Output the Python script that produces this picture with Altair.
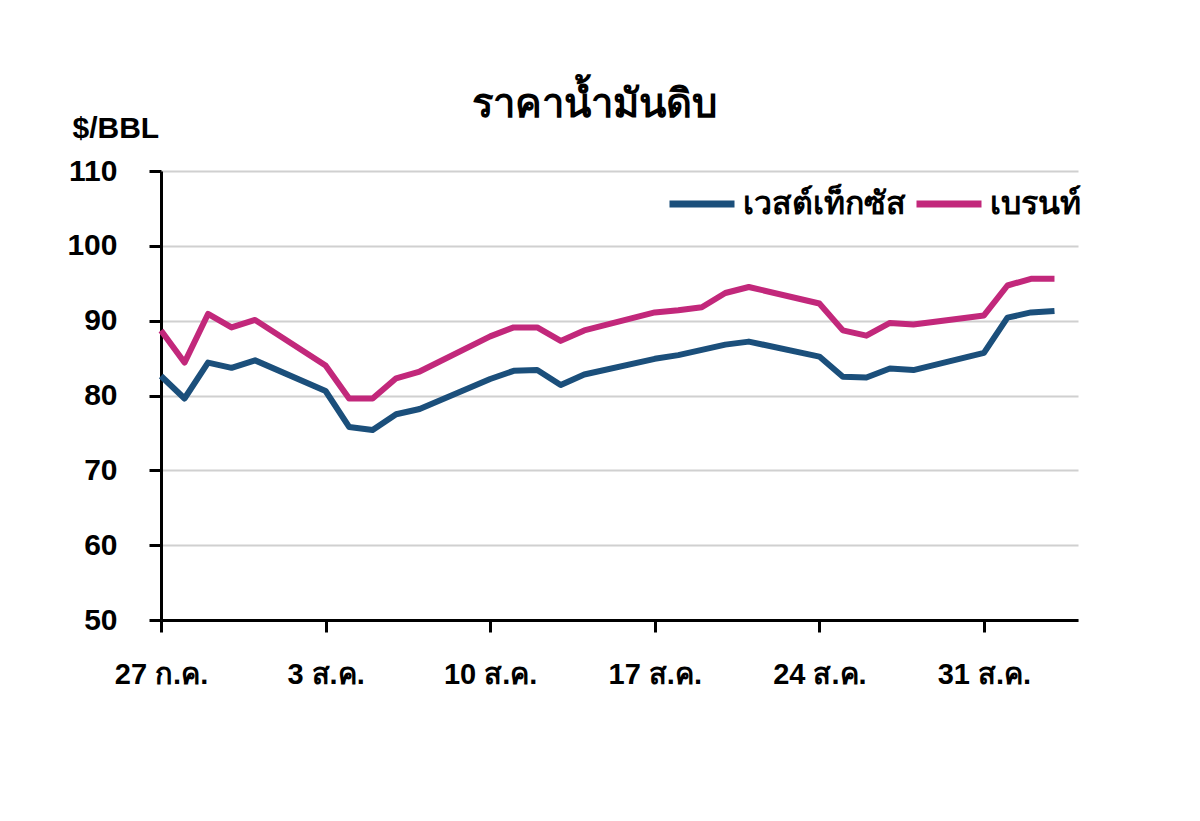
import altair as alt
import pandas as pd

# ---- data ----
dates = [
    "2009-07-27", "2009-07-28", "2009-07-29", "2009-07-30", "2009-07-31",
    "2009-08-03", "2009-08-04", "2009-08-05", "2009-08-06", "2009-08-07",
    "2009-08-10", "2009-08-11", "2009-08-12", "2009-08-13", "2009-08-14",
    "2009-08-17", "2009-08-18", "2009-08-19", "2009-08-20", "2009-08-21",
    "2009-08-24", "2009-08-25", "2009-08-26", "2009-08-27", "2009-08-28",
    "2009-08-31", "2009-09-01", "2009-09-02", "2009-09-03",
]
wti = [
    82.6, 79.6, 84.4, 83.7, 84.7,
    80.6, 75.8, 75.4, 77.5, 78.2,
    82.2, 83.3, 83.4, 81.4, 82.8,
    84.9, 85.4, 86.1, 86.8, 87.2,
    85.2, 82.5, 82.4, 83.6, 83.4,
    85.7, 90.4, 91.1, 91.3,
]
brent = [
    88.7, 84.4, 90.9, 89.1, 90.1,
    84.0, 79.6, 79.6, 82.3, 83.2,
    87.9, 89.1, 89.1, 87.3, 88.7,
    91.1, 91.4, 91.8, 93.7, 94.5,
    92.3, 88.7, 88.0, 89.7, 89.5,
    90.7, 94.7, 95.6, 95.6,
]
series_names = ["เวสต์เท็กซัส", "เบรนท์"]
series_colors = ["#1b4f7b", "#c2287b"]
tick_days = [0, 7, 14, 21, 28, 35]
tick_labels = ["27 ก.ค.", "3 ส.ค.", "10 ส.ค.", "17 ส.ค.", "24 ส.ค.", "31 ส.ค."]
y_ticks = [50, 60, 70, 80, 90, 100, 110]
title_text = "ราคาน้ำมันดิบ"
y_title = "$/BBL"

# ---- build table ----
d = pd.to_datetime(pd.Series(dates))
day = (d - d.iloc[0]).dt.days.tolist()
rows = []
for name, vals in zip(series_names, [wti, brent]):
    for dd, v in zip(day, vals):
        rows.append({"day": dd, "price": v, "series": name})
df = pd.DataFrame(rows)

FONT = "Liberation Sans"
label_js = "[" + ",".join("'" + t + "'" for t in tick_labels) + "]"

chart = (
    alt.Chart(df)
    .mark_line(strokeWidth=6, strokeJoin="round")
    .encode(
        x=alt.X(
            "day:Q",
            scale=alt.Scale(domain=[0, 39], nice=False, zero=False),
            axis=alt.Axis(
                values=tick_days,
                labelExpr=label_js + "[round(datum.value/7)]",
                labelFlush=False,
                labelOverlap=False,
                title=None,
                grid=False,
                tickSize=12,
                tickWidth=3,
                tickColor="black",
                domainColor="black",
                domainWidth=3,
                labelFont=FONT,
                labelFontSize=29,
                labelFontWeight="bold",
                labelColor="black",
                labelPadding=28,
            ),
        ),
        y=alt.Y(
            "price:Q",
            scale=alt.Scale(domain=[50, 110], nice=False, zero=False),
            axis=alt.Axis(
                values=y_ticks,
                title=y_title,
                titleAngle=0,
                titleAlign="left",
                titleBaseline="middle",
                titleX=-89,
                titleY=-43,
                titleFont=FONT,
                titleFontSize=30,
                titleFontWeight="bold",
                titleColor="black",
                grid=True,
                gridColor="#d0d0d0",
                gridWidth=2,
                tickSize=12,
                tickWidth=3,
                tickColor="black",
                domainColor="black",
                domainWidth=3,
                labelFont=FONT,
                labelFontSize=30,
                labelFontWeight="bold",
                labelColor="black",
                labelPadding=32,
            ),
        ),
        color=alt.Color(
            "series:N",
            scale=alt.Scale(domain=series_names, range=series_colors),
            sort=series_names,
            legend=alt.Legend(
                title=None,
                orient="none",
                legendX=505,
                legendY=-3,
                direction="horizontal",
                symbolType="stroke",
                symbolSize=4225,
                symbolStrokeWidth=7,
                labelFont=FONT,
                labelFontSize=32,
                labelFontWeight="bold",
                labelColor="black",
                labelOffset=5,
                labelLimit=400,
                columnPadding=-4,
            ),
        ),
        order=alt.Order("day:Q"),
    )
    .properties(
        width=917,
        height=449,
        title=alt.TitleParams(
            text=title_text,
            font=FONT,
            fontSize=40,
            fontWeight="bold",
            color="black",
            anchor="middle",
            dx=-25,
            dy=32,
            offset=20,
        ),
        autosize=alt.AutoSizeParams(type="none"),
        padding={"left": 153, "top": 163, "right": 114, "bottom": 150},
    )
    .configure_view(stroke=None)
)

chart.save("out.html", embed_options={"renderer": "svg", "actions": False})
